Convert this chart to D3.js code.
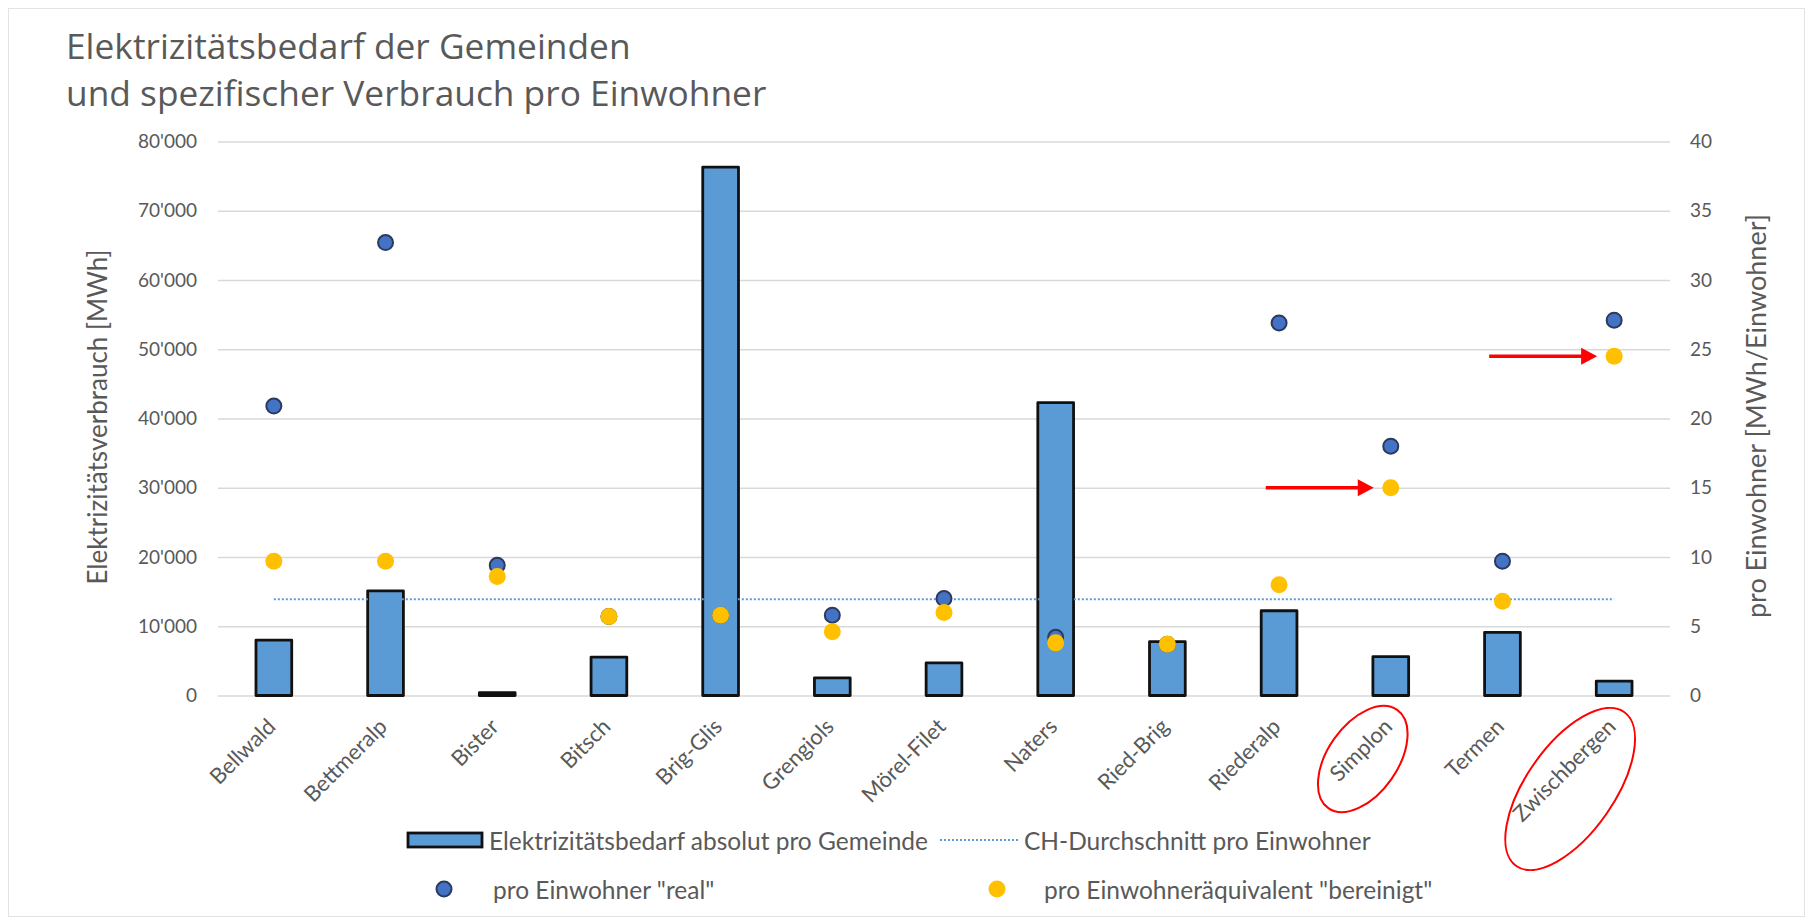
<!DOCTYPE html>
<html>
<head>
<meta charset="utf-8">
<script src="https://cdn.jsdelivr.net/npm/d3@7"></script>
<style>
  html, body { margin: 0; padding: 0; background: #fff; }
  svg { display: block; }
</style>
</head>
<body>
<svg id="chart" width="1814" height="924"></svg>
<script>
// data
const categories = ['Bellwald', 'Bettmeralp', 'Bister', 'Bitsch', 'Brig-Glis', 'Grengiols', 'Mörel-Filet',
  'Naters', 'Ried-Brig', 'Riederalp', 'Simplon', 'Termen', 'Zwischbergen'];
const bedarfAbsolut = [8000, 15100, 400, 5550, 76300, 2550, 4700, 42300, 7770, 12240, 5600, 9120, 2090];
const proEinwohnerReal = [20.9, 32.7, 9.4, 5.7, 5.8, 5.8, 7.0, 4.2, 3.7, 26.9, 18.0, 9.7, 27.1];
const proEinwohnerBereinigt = [9.7, 9.7, 8.6, 5.7, 5.8, 4.6, 6.0, 3.8, 3.7, 8.0, 15.0, 6.8, 24.5];
const chDurchschnitt = [6.95, 6.95, 6.95, 6.95, 6.95, 6.95, 6.95, 6.95, 6.95, 6.95, 6.95, 6.95, 6.95];
const leftTicks = [0, 10000, 20000, 30000, 40000, 50000, 60000, 70000, 80000];
const rightTicks = [0, 5, 10, 15, 20, 25, 30, 35, 40];
const markedCategories = ['Simplon', 'Zwischbergen'];

const textColor = '#595959';
const font = 'Lato, "Open Sans", sans-serif';

const svg = d3.select('#chart');
const margin = { left: 218, right: 1670, top: 141.5, bottom: 695.5 };

// chart area border
svg.append('rect')
  .attr('x', 8.5).attr('y', 8.5).attr('width', 1796).attr('height', 908)
  .attr('fill', '#fff').attr('stroke', '#e3e3e3').attr('stroke-width', 1);

const x = d3.scaleBand()
  .domain(categories)
  .range([margin.left, margin.right])
  .paddingInner(0.68)
  .paddingOuter(0.34);
const cx = (c) => x(c) + x.bandwidth() / 2;

const yLeft = d3.scaleLinear().domain([0, 80000]).range([margin.bottom, margin.top]);
const yRight = d3.scaleLinear().domain([0, 40]).range([margin.bottom, margin.top]);

const swiss = d3.formatLocale({ decimal: '.', thousands: "'", grouping: [3], currency: ['', ''] });
const fmt = swiss.format(',');

// title
const title = svg.append('g')
  .attr('font-family', '"Open Sans", sans-serif')
  .attr('font-size', '35.3px')
  .attr('fill', textColor);
title.append('text').attr('x', 66).attr('y', 59).text('Elektrizitätsbedarf der Gemeinden');
title.append('text').attr('x', 66).attr('y', 106).text('und spezifischer Verbrauch pro Einwohner');

// gridlines + left ticks
const leftAxis = svg.append('g')
  .attr('transform', `translate(${margin.left},0)`)
  .call(d3.axisLeft(yLeft).tickValues(leftTicks).tickFormat(fmt)
    .tickSize(-(margin.right - margin.left)).tickPadding(21));
leftAxis.select('.domain').remove();
leftAxis.selectAll('.tick line').attr('stroke', '#d9d9d9').attr('stroke-width', 1.6);
leftAxis.selectAll('.tick text')
  .attr('fill', textColor).attr('font-family', font).attr('font-size', '19px');

// right ticks
const rightAxis = svg.append('g')
  .attr('transform', `translate(${margin.right},0)`)
  .call(d3.axisRight(yRight).tickValues(rightTicks).tickSize(0).tickPadding(20));
rightAxis.select('.domain').remove();
rightAxis.selectAll('.tick text')
  .attr('fill', textColor).attr('font-family', font).attr('font-size', '19px');

// axis titles
svg.append('text')
  .attr('transform', `translate(97,417) rotate(-90)`)
  .attr('text-anchor', 'middle').attr('dominant-baseline', 'central')
  .attr('font-family', font).attr('font-size', '26px').attr('fill', textColor)
  .text('Elektrizitätsverbrauch [MWh]');
svg.append('text')
  .attr('transform', `translate(1755,416) rotate(-90)`)
  .attr('text-anchor', 'middle').attr('dominant-baseline', 'central')
  .attr('font-family', font).attr('font-size', '27px').attr('fill', textColor)
  .text('pro Einwohner [MWh/Einwohner]');

// category labels
svg.append('g').selectAll('text')
  .data(categories)
  .join('text')
  .attr('transform', (d) => `translate(${cx(d) + 3},728) rotate(-45)`)
  .attr('text-anchor', 'end')
  .attr('font-family', font).attr('font-size', '22px').attr('fill', textColor)
  .text((d) => d);

// bars
svg.append('g').selectAll('rect')
  .data(categories)
  .join('rect')
  .attr('x', (d) => x(d))
  .attr('y', (d, i) => yLeft(bedarfAbsolut[i]))
  .attr('width', x.bandwidth())
  .attr('height', (d, i) => yLeft(0) - yLeft(bedarfAbsolut[i]))
  .attr('fill', '#5b9bd5')
  .attr('stroke', '#111')
  .attr('stroke-width', 2.8)
  .attr('stroke-linejoin', 'round');

// CH average line
const chLine = d3.line()
  .x((d, i) => cx(categories[i]))
  .y((d) => yRight(d));
svg.append('path')
  .datum(chDurchschnitt)
  .attr('d', chLine)
  .attr('fill', 'none')
  .attr('stroke', '#5b9bd5')
  .attr('stroke-width', 2)
  .attr('stroke-dasharray', '2,2');

// dots "real"
svg.append('g').selectAll('circle')
  .data(proEinwohnerReal)
  .join('circle')
  .attr('cx', (d, i) => cx(categories[i]))
  .attr('cy', (d) => yRight(d))
  .attr('r', 7.5)
  .attr('fill', '#4472c4')
  .attr('stroke', '#2b3a5e')
  .attr('stroke-width', 2);

// dots "bereinigt"
svg.append('g').selectAll('circle')
  .data(proEinwohnerBereinigt)
  .join('circle')
  .attr('cx', (d, i) => cx(categories[i]))
  .attr('cy', (d) => yRight(d))
  .attr('r', 8.5)
  .attr('fill', '#ffc000');

// red annotations: arrows pointing at the adjusted values, ellipses round the labels
const red = '#ff0000';
const ann = svg.append('g');
markedCategories.forEach((c) => {
  const i = categories.indexOf(c);
  const tipX = cx(c) - 17;
  const yy = yRight(proEinwohnerBereinigt[i]);
  ann.append('line')
    .attr('x1', tipX - 108).attr('y1', yy)
    .attr('x2', tipX - 14).attr('y2', yy)
    .attr('stroke', red).attr('stroke-width', 3.5);
  ann.append('path')
    .attr('d', `M${tipX},${yy} L${tipX - 16},${yy - 8.5} L${tipX - 16},${yy + 8.5} Z`)
    .attr('fill', red);
});
const ellipses = [
  { c: 'Simplon', dx: -28, cy: 759, rx: 60, ry: 35 },
  { c: 'Zwischbergen', dx: -44, cy: 789, rx: 94, ry: 44 }
];
ann.selectAll('ellipse')
  .data(ellipses)
  .join('ellipse')
  .attr('transform', (d) => `translate(${cx(d.c) + d.dx},${d.cy}) rotate(-55)`)
  .attr('rx', (d) => d.rx).attr('ry', (d) => d.ry)
  .attr('fill', 'none').attr('stroke', red).attr('stroke-width', 2);

// legend
const lg = svg.append('g')
  .attr('font-family', font).attr('font-size', '24.5px').attr('fill', textColor);
lg.append('rect').attr('x', 408).attr('y', 833).attr('width', 74).attr('height', 14)
  .attr('fill', '#5b9bd5').attr('stroke', '#111').attr('stroke-width', 2.8);
lg.append('text').attr('x', 489).attr('y', 840).attr('dominant-baseline', 'central')
  .text('Elektrizitätsbedarf absolut pro Gemeinde');
lg.append('line').attr('x1', 940).attr('x2', 1018).attr('y1', 840).attr('y2', 840)
  .attr('stroke', '#5b9bd5').attr('stroke-width', 2).attr('stroke-dasharray', '2,2');
lg.append('text').attr('x', 1024).attr('y', 840).attr('dominant-baseline', 'central')
  .text('CH-Durchschnitt pro Einwohner');
lg.append('circle').attr('cx', 444).attr('cy', 889).attr('r', 7.5)
  .attr('fill', '#4472c4').attr('stroke', '#2b3a5e').attr('stroke-width', 2);
lg.append('text').attr('x', 493).attr('y', 889).attr('dominant-baseline', 'central')
  .text('pro Einwohner "real"');
lg.append('circle').attr('cx', 997).attr('cy', 889).attr('r', 8.5).attr('fill', '#ffc000');
lg.append('text').attr('x', 1044).attr('y', 889).attr('dominant-baseline', 'central')
  .text('pro Einwohneräquivalent "bereinigt"');
</script>
</body>
</html>
